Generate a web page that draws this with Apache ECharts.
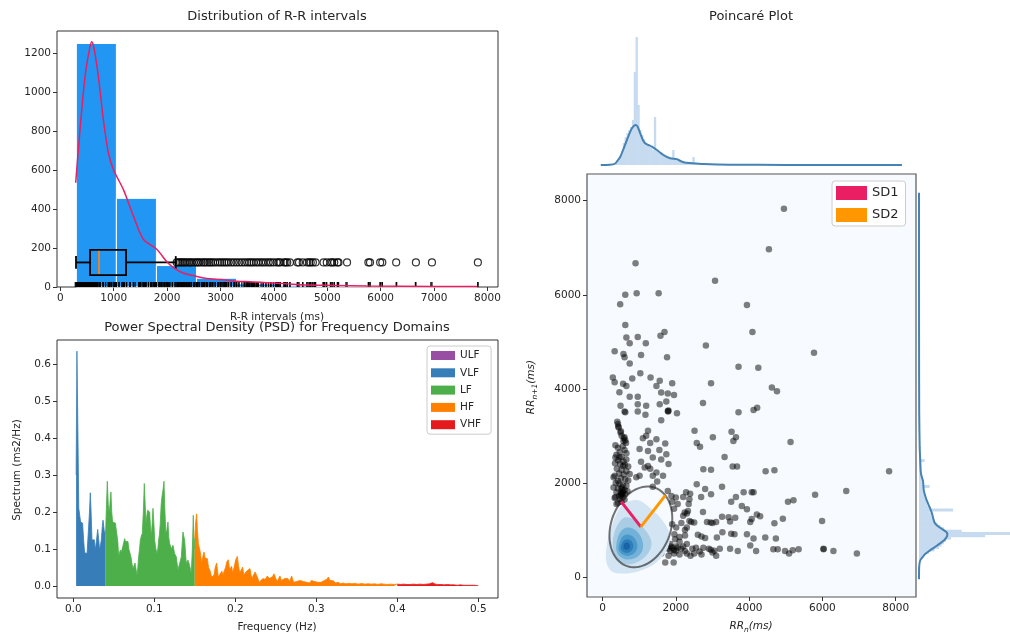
<!DOCTYPE html>
<html><head><meta charset="utf-8">
<script src="https://cdn.jsdelivr.net/npm/echarts@6/dist/echarts.min.js"></script>
<style>html,body{margin:0;padding:0;background:#fff}#c{width:1010px;height:640px}</style>
</head><body><div id="c"></div>
<script>
// ===================== DATA =====================
// Distribution of R-R intervals
const rrBinEdges = [300,1050,1800,2550,3300,4050,4800,5550,6300,7050,7800];
const rrBinCounts = [1250,455,110,45,16,9,4,3,1,1];
const rrKdeX = [288,369,463,544,588,631,713,806,900,993,1180,1368,1556,1806,1994,2118,2300,2556,2743,3000,3306,3555,3991,4491,5116,5740,6990,7814];
const rrKdeY = [535,808,1080,1217,1259,1225,1080,859,689,603,501,365,245,194,130,100,72,54,44,38,29,27,20,12,8,5,3,2];
const boxStats = [294,557,725,1231,2162]; // whisker low, Q1, median, Q3, whisker high
const boxOutliers = [2180,2210,2240,2270,2300,2330,2360,2400,2430,2460,2500,2540,2570,2600,2640,2680,2710,2750,2790,2820,
  2860,2900,2950,2990,3030,3070,3110,3150,3200,3250,3300,3350,3400,3450,3500,3540,3580,3620,3670,3710,3760,3800,3850,3900,
  3940,3990,4050,4090,4120,4190,4220,4250,4300,4440,4470,4540,4620,4660,4690,4730,4780,4930,4990,5060,5090,5130,5190,5210,
  5370,5770,5800,5990,6030,6290,6660,6960,7820];
const histXTicks = [0,1000,2000,3000,4000,5000,6000,7000,8000];
const histYTicks = [0,200,400,600,800,1000,1200];

// PSD
const psdFreq = [
0.0035,0.0045,0.0058,0.0068,0.0080,0.0090,0.0105,0.0115,0.0128,0.0140,
0.0155,0.0170,0.0185,0.0200,0.0210,0.0220,0.0231,0.0245,0.0260,0.0272,
0.0285,0.0301,0.0312,0.0325,0.0335,0.0346,0.0358,0.0367,0.0377,0.0387,
0.0400,0.0410,0.0420,0.0432,0.0445,0.0455,0.0465,0.0475,0.0486,0.0497,
0.0507,0.0520,0.0539,0.0550,0.0560,0.0570,0.0581,0.0591,0.0601,0.0615,
0.0634,0.0645,0.0655,0.0665,0.0675,0.0686,0.0696,0.0705,0.0712,0.0725,
0.0737,0.0750,0.0762,0.0775,0.0786,0.0797,0.0807,0.0818,0.0828,0.0840,
0.0852,0.0865,0.0877,0.0888,0.0898,0.0908,0.0918,0.0930,0.0943,0.0953,
0.0963,0.0974,0.0984,0.0995,0.1005,0.1020,0.1033,0.1044,0.1054,0.1064,
0.1074,0.1085,0.1095,0.1108,0.1120,0.1132,0.1144,0.1155,0.1169,0.1180,
0.1190,0.1210,0.1231,0.1251,0.1272,0.1292,0.1313,0.1334,0.1354,0.1375,
0.1395,0.1416,0.1436,0.1457,0.1470,0.1482,0.1490,0.1500,
0.1510,0.1523,0.1533,0.1544,0.1556,0.1570,0.1585,0.1600,0.1614,0.1628,
0.1640,0.1655,0.1670,0.1688,0.1708,0.1722,0.1737,0.1752,0.1770,0.1782,
0.1790,0.1805,0.1819,0.1835,0.1850,0.1865,0.1880,0.1895,0.1914,0.1930,
0.1942,0.1955,0.1968,0.1985,0.2005,0.2025,0.2040,0.2055,0.2070,0.2091,
0.2105,0.2120,0.2140,0.2160,0.2181,0.2195,0.2210,0.2225,0.2245,0.2264,
0.2280,0.2295,0.2313,0.2340,0.2370,0.2396,0.2420,0.2440,0.2460,0.2478,
0.2500,0.2520,0.2535,0.2552,0.2570,0.2590,0.2610,0.2630,0.2650,0.2670,
0.2696,0.2720,0.2740,0.2760,0.2780,0.2800,0.2820,0.2840,0.2860,0.2880,
0.2900,0.2920,0.2940,0.2960,0.2980,0.3000,0.3020,0.3040,0.3060,0.3080,
0.3100,0.3130,0.3149,0.3170,0.3190,0.3210,0.3240,0.3270,0.3300,0.3330,
0.3360,0.3400,0.3440,0.3480,0.3520,0.3560,0.3600,0.3640,0.3680,0.3720,
0.3760,0.3800,0.3840,0.3880,0.3920,0.3960,0.4000,
0.4040,0.4080,0.4120,0.4160,0.4200,0.4240,0.4280,0.4320,0.4360,0.4400,
0.4436,0.4470,0.4500,0.4540,0.4580,0.4620,0.4660,0.4700,0.4740,0.4780,
0.4820,0.4860,0.4900,0.4950,0.5000];
const psdPower = [
0.30,0.635,0.40,0.21,0.19,0.173,0.17,0.17,0.124,0.09,
0.088,0.088,0.09,0.20,0.252,0.20,0.124,0.12,0.125,0.097,
0.12,0.153,0.13,0.097,0.11,0.124,0.16,0.178,0.16,0.14,
0.15,0.22,0.283,0.22,0.196,0.23,0.254,0.20,0.173,0.173,
0.173,0.17,0.173,0.12,0.079,0.09,0.097,0.09,0.088,0.11,
0.128,0.12,0.12,0.115,0.12,0.10,0.092,0.085,0.079,0.06,
0.047,0.055,0.062,0.045,0.029,0.05,0.079,0.10,0.124,0.135,
0.142,0.20,0.277,0.22,0.169,0.19,0.205,0.20,0.200,0.16,
0.133,0.17,0.210,0.17,0.124,0.10,0.088,0.10,0.124,0.14,
0.169,0.22,0.241,0.26,0.283,0.20,0.142,0.15,0.173,0.13,
0.115,0.101,0.110,0.088,0.079,0.043,0.061,0.079,0.146,0.124,
0.061,0.070,0.056,0.034,0.10,0.191,0.10,0.13,
0.17,0.195,0.15,0.115,0.115,0.09,0.061,0.08,0.092,0.075,
0.074,0.074,0.05,0.042,0.024,0.028,0.029,0.05,0.062,0.04,
0.024,0.03,0.033,0.04,0.03,0.042,0.05,0.065,0.071,0.045,
0.04,0.053,0.035,0.05,0.07,0.080,0.055,0.035,0.04,0.051,
0.03,0.028,0.04,0.045,0.047,0.03,0.02,0.03,0.038,0.038,
0.02,0.01,0.012,0.02,0.018,0.027,0.02,0.015,0.025,0.033,
0.02,0.012,0.02,0.027,0.015,0.01,0.02,0.015,0.02,0.012,
0.027,0.01,0.008,0.012,0.01,0.015,0.01,0.012,0.01,0.01,
0.012,0.008,0.015,0.01,0.012,0.008,0.01,0.012,0.01,0.012,
0.015,0.018,0.024,0.015,0.012,0.014,0.008,0.01,0.006,0.008,
0.006,0.007,0.006,0.007,0.005,0.007,0.005,0.006,0.005,0.006,
0.004,0.006,0.005,0.004,0.005,0.004,0.005,
0.004,0.005,0.004,0.004,0.005,0.004,0.005,0.004,0.005,0.006,
0.009,0.005,0.004,0.004,0.003,0.004,0.003,0.003,0.002,0.003,
0.002,0.002,0.002,0.002,0.001];
const bandNames = ['ULF','VLF','LF','HF','VHF'];
const bandLimits = [[0,0.0033],[0.0033,0.04],[0.04,0.15],[0.15,0.4],[0.4,0.5]];
const psdXTicks = [0,0.1,0.2,0.3,0.4,0.5];
const psdYTicks = [0,0.1,0.2,0.3,0.4,0.5,0.6];

// Poincaré
const poincarePoints = [
[900,6670],[620,6000],[930,6030],[1530,6030],[480,5800],[620,5360],[650,5090],[960,5100],[740,4970],[1180,4970],[1580,5130],[1690,5210],
[330,4800],[570,4740],[600,4670],[740,4540],[1050,4720],[1760,4670],[280,4240],[330,4140],[560,4110],[650,4060],[810,4220],[1030,4330],
[1310,4240],[1470,4060],[1560,4170],[1600,3920],[1780,3900],[1900,4120],[1950,3870],[460,3930],[740,3830],[960,3830],[960,3670],[1190,3640],
[490,3640],[600,3520],[620,3500],[960,3520],[1170,3450],[1560,3670],[1740,3730],[1780,3530],[1800,3540],[1790,3520],[1600,3330],[2030,3480],
[420,3250],[440,3180],[490,3070],[600,2970],[570,2890],[1240,3110],[1190,3000],[1470,2930],[1710,2840],[1010,2720],[1240,2680],[1740,2610],
[1370,2540],[350,2540],[460,2540],[650,2630],[560,2360],[1150,2330],[1240,2360],[1470,2220],[1800,2400],[740,2190],[920,2120],[1010,2150],
[1370,2150],[1650,2150],[330,2150],[420,2040],[520,1870],[550,1760],[350,1700],[380,1550],[1370,1920],[1490,2030],[1780,1830],[1880,1720],
[2000,1690],[2280,1800],[2370,1650],[2330,1400],[2240,1370],[2370,1190],[1900,1120],[2010,1050],[1960,910],
[1100,2950],[1300,2850],[1550,2700],[1050,2450],[1600,2500],[1300,2300],
[400,3300],[430,3200],[500,3100],[520,3000],[580,2950],[620,2900],[640,2850],[350,2800],[420,2750],[550,2780],[600,2700],[470,2650],
[380,2600],[520,2550],[650,2500],[420,2480],[570,2450],[340,2420],[480,2400],[610,2380],[700,2350],[390,2300],[520,2280],[650,2250],
[450,2200],[580,2180],[300,2120],[500,2100],[620,2080],[700,2050],[360,2000],[460,1980],[560,1960],[650,1940],[300,1900],[420,1880],
[600,1850],[680,1820],[380,1800],[500,1780],[620,1760],[450,1720],[560,1700],[330,1680],[480,1650],[600,1640],[520,1600],[420,1580],
[520,1760],[540,1800],[500,1740],[560,1840],[520,1900],
[1900,1600],[2050,1550],[2200,1700],[1950,1450],[2150,1150],[2250,1000],[1980,800],[2100,750],[1850,650],[1900,620],[1950,580],[2000,560],
[1800,600],[1850,560],[2050,620],[2150,600],[2250,550],[2300,500],[1950,500],[2100,480],[1710,310],[1940,310],[1800,450],[2000,650],
[2200,650],[2300,700],[1850,700],[2100,850],[2250,880],[2300,1050],[2200,1300],[2300,1350],[2350,1550],
[330,390],[370,360],[420,330],[350,420],[400,400],[310,350],[450,380],[380,450],[330,320],
[4950,7830],[4540,6970],[3070,6300],[3940,5780],[4090,5210],[2820,4920],[5770,4770],[3710,4470],[4250,4450],[2960,4120],[4620,4030],[4760,3950],
[2740,3700],[3710,3500],[4120,3550],[4220,3600],[2510,3110],[3010,2970],[2570,2850],[2660,2770],[3520,3090],[3640,2970],[3570,2890],[5130,2870],
[3330,2550],[3550,2350],[3670,2350],[2750,2290],[2960,2280],[4450,2250],[4690,2270],[7820,2250],[3260,1920],[2570,1970],[2800,1870],[2960,1760],
[2690,1700],[2390,1770],[3850,1800],[4070,1800],[4120,1800],[3640,1700],[3510,1600],[3800,1510],[3940,1440],[5060,1600],[5210,1630],[5800,1750],
[6650,1830],[5990,1190],[4920,1240],[4690,1140],[4210,1330],[4300,1290],[4070,1230],[4030,1170],[3260,1280],[3440,1270],[3620,1260],[3480,1180],
[2740,1380],[2850,1170],[2950,1160],[3000,1150],[3100,1170],[2420,1170],[2500,1160],[3510,920],[3600,910],[3270,950],[3940,910],[4120,820],
[4440,840],[4730,820],[3120,840],[2600,900],[2700,860],[2800,830],[4030,670],[4190,550],[3480,600],[3690,550],[4660,590],[4780,590],
[4980,550],[5090,500],[5190,570],[5350,590],[6030,590],[6030,600],[6300,550],[6940,500],[2900,600],[2950,580],[3000,520],[3050,560],
[2450,600],[2550,620],[2650,540],[2700,480],[2750,620],[2400,450],[2500,500],[3100,450],[3200,600],
[500,600],[600,700],[700,800],[800,600],[650,500],[550,900],[900,900],[1000,700],[750,1100],[1200,800],[1400,600],[1100,400],
[800,300],[600,300],[400,600],[450,800],[350,1000],[500,1200],[700,1300],[900,1200],[1300,1000],[1500,800],[1600,500],[1200,300],
[950,200],[650,250],[300,700],[700,600],[850,750],[600,1000]
];
const poincareMean = [1045,1065];
const sd1 = 760, sd2 = 945;
const kdeContours = [
 [[100,340],[237,128],[556,72],[1009,128],[1465,306],[1784,625],[1827,908],[1647,1191],[1282,1477],[965,1632],[646,1583],[420,1404],[237,1051],[120,696]],
 [[284,625],[374,413],[646,270],[1009,340],[1282,553],[1328,766],[1145,1015],[829,1228],[600,1264],[420,1121],[300,872]],
 [[380,560],[500,420],[700,370],[950,430],[1100,600],[1050,850],[850,1020],[650,1050],[480,950],[390,760]],
 [[440,580],[560,470],[720,450],[880,520],[950,650],[880,820],[720,900],[560,870],[470,740]],
 [[500,600],[600,520],[720,520],[820,600],[830,700],[740,790],[610,790],[520,700]],
 [[570,620],[640,580],[720,600],[750,660],[700,730],[610,720]]
];
const margBinEdges = [350,400,450,500,550,600,650,700,750,800,850,900,950,1000,1050,1100,1150,1200,1250,1300,1350,1400,1450,1500,
  1550,1600,1650,1700,1750,1800,1850,1900,1950,2000,2050,2100,2150,2200,2250,2300,2350,2400,2450,2500,2550,2600,2650,2700,2750,
  2800,2850,2900,2950,3000];
const margBinCounts = [2,4,8,14,22,28,32,35,38,45,93,128,60,35,30,26,22,20,18,17,15,48,14,12,11,10,9,8,7,6,6,15,5,4,4,3,3,3,2,2,2,2,8,2,2,1,1,1,1,1,1,1,1];
const margKdeX = [-50,200,346,420,483,560,665,801,910,960,1028,1100,1164,1250,1346,1483,1570,1664,1846,2028,2210,2450,2755,3482,5000,8170];
const margKdeY = [0,0.2,1.5,5,8.3,15,25,36.7,40,38,31.7,25,21.7,20,18.3,15,12.5,10,6.7,5.7,2.7,1.8,1,0.3,0.1,0];
const poincareTicks = [0,2000,4000,6000,8000];

// ===================== STYLE / BUILD =====================
const FONT = 'DejaVu Sans';
const TXT = '#262626';
const bandColors = ['#984ea3','#377eb8','#4daf4a','#ff7f00','#e41a1c'];
const kdeColors = ['#d3e4f3','#a8cde4','#73b2d8','#4a98c9','#2d7dbb','#1a63a8'];
const BOX_Y = 126, BOX_HALF = 65;

function vAxis(gi, min, max, ticks, fmt) {
  return {type:'value', gridIndex:gi, min:min, max:max, splitLine:{show:false}, axisLine:{show:false, onZero:false},
    axisTick:{show:true, inside:false, length:4, lineStyle:{color:'#333', width:1}, customValues:ticks},
    axisLabel:{show:true, customValues:ticks, formatter:fmt || (v=>String(v)), color:TXT, fontSize:10.5, fontFamily:FONT, margin:6}};
}
function hidden(gi, min, max){ return {type:'value', gridIndex:gi, min:min, max:max, show:false, splitLine:{show:false}, axisLine:{onZero:false}}; }
const f1 = v => v.toFixed(1);

const series = [];
// histogram bars
series.push({type:'custom', xAxisIndex:0, yAxisIndex:0, z:1, silent:true,
  data: rrBinCounts.map((c,i)=>[rrBinEdges[i], rrBinEdges[i+1], c]),
  encode:{x:[0,1], y:2},
  renderItem:(p,api)=>{ const a=api.coord([api.value(0),api.value(2)]), b=api.coord([api.value(1),0]);
    return {type:'rect', shape:{x:a[0], y:a[1], width:b[0]-a[0], height:b[1]-a[1]}, style:{fill:'#2196F3', stroke:'#fff', lineWidth:1}}; }});
// rug
const rugValues = poincarePoints.map(p=>p[0]).concat(boxOutliers);
series.push({type:'custom', xAxisIndex:0, yAxisIndex:0, z:2, silent:true,
  data: rugValues.map(v=>[v,0]), encode:{x:0,y:1},
  renderItem:(p,api)=>{ const a=api.coord([api.value(0),0]);
    return {type:'line', shape:{x1:a[0], y1:a[1], x2:a[0], y2:a[1]-5}, style:{stroke:'#000', lineWidth:1.2}}; }});
// box plot
series.push({type:'custom', xAxisIndex:0, yAxisIndex:0, z:3, silent:true,
  data:[boxStats], encode:{x:[0,4]},
  renderItem:(p,api)=>{
    const v=[0,1,2,3,4].map(i=>api.value(i));
    const X = x => api.coord([x, BOX_Y])[0];
    const mid = api.coord([0,BOX_Y])[1], top = api.coord([0,BOX_Y+BOX_HALF])[1], bot = api.coord([0,BOX_Y-BOX_HALF])[1];
    const cT = api.coord([0,BOX_Y+BOX_HALF/2])[1], cB = api.coord([0,BOX_Y-BOX_HALF/2])[1];
    const st = {stroke:'#000', lineWidth:1.8};
    return {type:'group', children:[
      {type:'line', shape:{x1:X(v[0]),y1:mid,x2:X(v[1]),y2:mid}, style:st},
      {type:'line', shape:{x1:X(v[3]),y1:mid,x2:X(v[4]),y2:mid}, style:st},
      {type:'line', shape:{x1:X(v[0]),y1:cT,x2:X(v[0]),y2:cB}, style:st},
      {type:'line', shape:{x1:X(v[4]),y1:cT,x2:X(v[4]),y2:cB}, style:st},
      {type:'rect', shape:{x:X(v[1]), y:top, width:X(v[3])-X(v[1]), height:bot-top}, style:{stroke:'#000', lineWidth:1.8, fill:'rgba(0,0,0,0)'}},
      {type:'line', shape:{x1:X(v[2]),y1:top+1,x2:X(v[2]),y2:bot-1}, style:{stroke:'#ff7f0e', lineWidth:1.8}}
    ]};
  }});
// outliers
series.push({type:'scatter', xAxisIndex:0, yAxisIndex:0, z:3, silent:true,
  data: boxOutliers.map(v=>[v,BOX_Y]), symbol:'circle', symbolSize:7,
  itemStyle:{color:'rgba(0,0,0,0)', borderColor:'#000', borderWidth:1.2}});
// KDE line
series.push({type:'line', xAxisIndex:0, yAxisIndex:0, z:4, silent:true, symbol:'none', smooth:0.3,
  data: rrKdeX.map((x,i)=>[x, rrKdeY[i]]), lineStyle:{color:'#E91E63', width:1.5}});

// PSD bands
bandNames.forEach((name,bi)=>{
  const lo = bandLimits[bi][0], hi = bandLimits[bi][1];
  const d = [];
  psdFreq.forEach((f,i)=>{ if (f>=lo-1e-9 && f<=hi+1e-9) d.push([f, psdPower[i]]); });
  series.push({type:'line', name:name, xAxisIndex:1, yAxisIndex:1, z:2, silent:true, symbol:'none', data:d,
    itemStyle:{color:bandColors[bi]}, lineStyle:{color:bandColors[bi], width:0.8}, areaStyle:{color:bandColors[bi], opacity:1}});
});

// Poincaré scatter
series.push({type:'scatter', xAxisIndex:2, yAxisIndex:2, z:2, silent:true, data:poincarePoints,
  symbol:'circle', symbolSize:6.5, itemStyle:{color:'#000', opacity:0.5}});
// density contours
series.push({type:'custom', xAxisIndex:2, yAxisIndex:2, z:3, silent:true,
  data: kdeContours.map((c,i)=>[c[0][0], c[0][1], i]),
  renderItem:(p,api)=>{ const i=p.dataIndex; const pts = kdeContours[i].map(q=>api.coord(q));
    return {type:'polygon', shape:{points:pts, smooth:0.35}, style:{fill:kdeColors[i]}}; }});
// ellipse
series.push({type:'custom', xAxisIndex:2, yAxisIndex:2, z:4, silent:true, data:[poincareMean],
  renderItem:(p,api)=>{ const pts=[]; const cx=api.value(0), cy=api.value(1), r=Math.SQRT1_2;
    for (let t=0; t<360; t+=4){ const a=t*Math.PI/180; const u=sd2*Math.cos(a), w=sd1*Math.sin(a);
      pts.push(api.coord([cx + r*u - r*w, cy + r*u + r*w])); }
    return {type:'polygon', shape:{points:pts}, style:{fill:'none', stroke:'rgba(40,40,40,0.65)', lineWidth:2}}; }});
// SD lines
const r2 = Math.SQRT1_2;
series.push({type:'line', name:'SD1', xAxisIndex:2, yAxisIndex:2, z:5, silent:true, symbol:'none',
  data:[poincareMean, [poincareMean[0]-sd1*r2, poincareMean[1]+sd1*r2]],
  itemStyle:{color:'#E91E63'}, lineStyle:{color:'#E91E63', width:3}});
series.push({type:'line', name:'SD2', xAxisIndex:2, yAxisIndex:2, z:5, silent:true, symbol:'none',
  data:[poincareMean, [poincareMean[0]+sd2*r2, poincareMean[1]+sd2*r2]],
  itemStyle:{color:'#FF9800'}, lineStyle:{color:'#FF9800', width:3}});
// marginal top
series.push({type:'custom', xAxisIndex:3, yAxisIndex:3, z:1, silent:true,
  data: margBinCounts.map((c,i)=>[margBinEdges[i], margBinEdges[i+1], c]),
  renderItem:(p,api)=>{ const a=api.coord([api.value(0),api.value(2)]), b=api.coord([api.value(1),0]);
    return {type:'rect', shape:{x:a[0], y:a[1], width:b[0]-a[0]+0.5, height:b[1]-a[1]}, style:{fill:'#c6dbef'}}; }});
series.push({type:'line', xAxisIndex:3, yAxisIndex:3, z:2, silent:true, symbol:'none', smooth:0.3,
  data: margKdeX.map((x,i)=>[x, margKdeY[i]]), lineStyle:{color:'#4682b4', width:2}});
// marginal right
series.push({type:'custom', xAxisIndex:4, yAxisIndex:4, z:1, silent:true,
  data: margBinCounts.map((c,i)=>[c, margBinEdges[i], margBinEdges[i+1]]),
  renderItem:(p,api)=>{ const a=api.coord([0,api.value(2)]), b=api.coord([api.value(0),api.value(1)]);
    return {type:'rect', shape:{x:a[0], y:a[1]-0.3, width:b[0]-a[0], height:b[1]-a[1]+0.6}, style:{fill:'#c6dbef'}}; }});
series.push({type:'line', xAxisIndex:4, yAxisIndex:4, z:2, silent:true, symbol:'none', smooth:0.3,
  data: margKdeX.map((x,i)=>[margKdeY[i], x]), lineStyle:{color:'#4682b4', width:2}});

const sub = {
  i:{fontSize:10.5, fontStyle:'italic', fontFamily:FONT, fill:TXT, verticalAlign:'top', lineHeight:15},
  s:{fontSize:7.5, fontStyle:'italic', fontFamily:FONT, fill:TXT, verticalAlign:'top', lineHeight:10, padding:[6,0,0,0]}
};
function label(x,y,text,size,rot){ return {type:'text', x:x, y:y, rotation:rot||0, silent:true,
  style:{text:text, fontSize:size, fontFamily:FONT, fill:TXT, align:'center', verticalAlign:'middle'}}; }

const option = {
  animation:false,
  textStyle:{fontFamily:FONT},
  grid:[
    {left:57, top:31, width:441, height:256, show:true, borderColor:'#333', borderWidth:1, backgroundColor:'#fff'},
    {left:57, top:340, width:441, height:258, show:true, borderColor:'#333', borderWidth:1, backgroundColor:'#fff'},
    {left:587, top:174, width:329, height:423, show:true, borderColor:'#555', borderWidth:1.2, backgroundColor:'#f7fbff'},
    {left:587, top:37, width:329, height:128, show:false},
    {left:919, top:174, width:100, height:423, show:false}
  ],
  xAxis:[
    vAxis(0,-62,8197,histXTicks),
    vAxis(1,-0.0201,0.5244,psdXTicks,f1),
    vAxis(2,-425,8554,poincareTicks),
    hidden(3,-425,8554),
    hidden(4,0,128)
  ],
  yAxis:[
    vAxis(0,0,1314,histYTicks),
    vAxis(1,-0.0325,0.665,psdYTicks,f1),
    vAxis(2,-426,8568,poincareTicks),
    hidden(3,0,128),
    hidden(4,-426,8568)
  ],
  legend:[
    {data:bandNames, orient:'vertical', left:427, top:346, itemWidth:24, itemHeight:9, itemGap:6.3, icon:'rect',
     backgroundColor:'#fff', borderColor:'#ccc', borderWidth:1, borderRadius:3, padding:[4,10,4,4], selectedMode:false,
     textStyle:{fontSize:10.5, color:TXT, fontFamily:FONT}},
    {data:['SD1','SD2'], orient:'vertical', left:832, top:181, itemWidth:31, itemHeight:14, itemGap:8, icon:'rect',
     backgroundColor:'#fff', borderColor:'#ccc', borderWidth:1, borderRadius:3, padding:[5,7,4,4], selectedMode:false,
     textStyle:{fontSize:13, color:TXT, fontFamily:FONT}}
  ],
  graphic:{elements:[
    label(277,17,'Distribution of R-R intervals',13),
    label(277,328,'Power Spectral Density (PSD) for Frequency Domains',13),
    label(751,17,'Poincaré Plot',13),
    label(277,317,'R-R intervals (ms)',10.5),
    label(277,627,'Frequency (Hz)',10.5),
    label(17,470,'Spectrum (ms2/Hz)',10.5,Math.PI/2),
    {type:'text', x:751, y:628, silent:true, style:{text:'{i|RR}{s|n}{i|(ms)}', rich:sub, align:'center', verticalAlign:'middle'}},
    {type:'text', x:533, y:387, rotation:Math.PI/2, silent:true, style:{text:'{i|RR}{s|n+1}{i|(ms)}', rich:sub, align:'center', verticalAlign:'middle'}}
  ]},
  series:series
};
const chart = echarts.init(document.getElementById('c'), null, {renderer:'canvas'});
chart.setOption(option);
</script></body></html>
